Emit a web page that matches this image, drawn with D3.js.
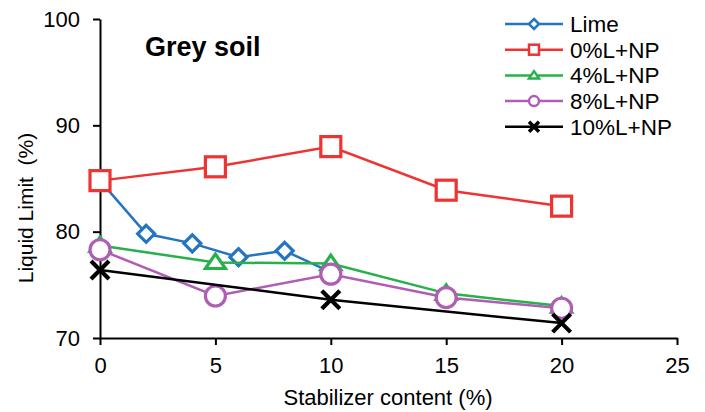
<!DOCTYPE html>
<html><head><meta charset="utf-8">
<script src="https://cdn.jsdelivr.net/npm/d3@7"></script>
<style>body{margin:0;background:#fff}svg{display:block;font-family:"Liberation Sans",Arial,sans-serif}</style>
</head><body><svg id="c" width="705" height="412"></svg>
<script>
const seriesNames = ["Lime","0%L+NP","4%L+NP","8%L+NP","10%L+NP"];
const limeX = [0,2,4,6,8,10];
const limeY = [84.8,79.8,78.9,77.6,78.2,76.2];
const np0X = [0,5,10,15,20];
const np0Y = [84.8,86.1,88.0,83.9,82.4];
const np4X = [0,5,10,15,20];
const np4Y = [78.7,77.1,77.0,74.2,73.0];
const np8X = [0,5,10,15,20];
const np8Y = [78.3,73.95,76.0,73.8,72.8];
const np10X = [0,10,20];
const np10Y = [76.4,73.6,71.4];
const xTicks = [0,5,10,15,20,25];
const yTicks = [70,80,90,100];

const colors = ["#2475bf","#ee3333","#27b04b","#b05db5","#000000"];
const symbols = ["diamond","square","triangle","circle","cross"];
const seriesData = [[limeX,limeY],[np0X,np0Y],[np4X,np4Y],[np8X,np8Y],[np10X,np10Y]];

const svg = d3.select("#c");
const x = d3.scaleLinear().domain([0,25]).range([100,677]);
const y = d3.scaleLinear().domain([70,100]).range([338,19]);

// axes
const xAx = svg.append("g").attr("transform","translate(0,338)")
  .call(d3.axisBottom(x).tickValues(xTicks).tickSize(7).tickPadding(12).tickSizeOuter(0));
const yAx = svg.append("g").attr("transform","translate(100,0)")
  .call(d3.axisLeft(y).tickValues(yTicks).tickSize(7).tickPadding(13).tickSizeOuter(0));
[xAx,yAx].forEach(a=>{
  a.selectAll("path,line").attr("stroke","#000").attr("stroke-width",2);
  a.selectAll("text").attr("font-size",22).attr("fill","#000").attr("font-family","Liberation Sans, Arial, sans-serif");
});

svg.append("text").attr("x",388).attr("y",405).attr("text-anchor","middle")
  .attr("font-size",22).text("Stabilizer content (%)");
svg.append("text").attr("transform","translate(33,208) rotate(-90)").attr("text-anchor","middle")
  .attr("font-size",21).attr("xml:space","preserve").text("Liquid Limit  (%)");
svg.append("text").attr("x",145).attr("y",56).attr("font-size",27).attr("font-weight","bold").text("Grey soil");

function marker(g, type, cx, cy, s, col, sw){
  if(type==="diamond"){
    g.append("path").attr("d",`M${cx},${cy-s}L${cx+s},${cy}L${cx},${cy+s}L${cx-s},${cy}Z`)
     .attr("fill","#fff").attr("stroke",col).attr("stroke-width",sw);
  } else if(type==="square"){
    g.append("rect").attr("x",cx-s).attr("y",cy-s).attr("width",2*s).attr("height",2*s)
     .attr("fill","#fff").attr("stroke",col).attr("stroke-width",sw);
  } else if(type==="triangle"){
    g.append("path").attr("d",`M${cx},${cy-s*0.85}L${cx+s},${cy+s*0.6}L${cx-s},${cy+s*0.6}Z`)
     .attr("fill","#fff").attr("stroke",col).attr("stroke-width",sw);
  } else if(type==="circle"){
    g.append("circle").attr("cx",cx).attr("cy",cy).attr("r",s)
     .attr("fill","#fff").attr("stroke",col).attr("stroke-width",sw);
  } else {
    g.append("path").attr("d",`M${cx-s},${cy-s}L${cx+s},${cy+s}M${cx-s},${cy+s}L${cx+s},${cy-s}`)
     .attr("stroke",col).attr("stroke-width",sw+1).attr("fill","none");
  }
}
const sizes = [8.5,10,10,10,9];
const line = d3.line().x(d=>x(d[0])).y(d=>y(d[1]));
seriesData.forEach((sd,i)=>{
  const pts = sd[0].map((v,j)=>[v,sd[1][j]]);
  const g = svg.append("g");
  g.append("path").datum(pts).attr("d",line).attr("fill","none").attr("stroke",colors[i]).attr("stroke-width",2.5);
  pts.forEach(p=>marker(g,symbols[i],x(p[0]),y(p[1]),sizes[i],colors[i],3.2));
});

// legend
const lg = svg.append("g");
seriesNames.forEach((n,i)=>{
  const yy = 24 + i*25.7;
  lg.append("line").attr("x1",505).attr("x2",563).attr("y1",yy).attr("y2",yy).attr("stroke",colors[i]).attr("stroke-width",2.5);
  marker(lg,symbols[i],534,yy,5,colors[i],2.5);
  lg.append("text").attr("x",570).attr("y",yy+8).attr("font-size",22.5).text(n);
});
</script></body></html>
